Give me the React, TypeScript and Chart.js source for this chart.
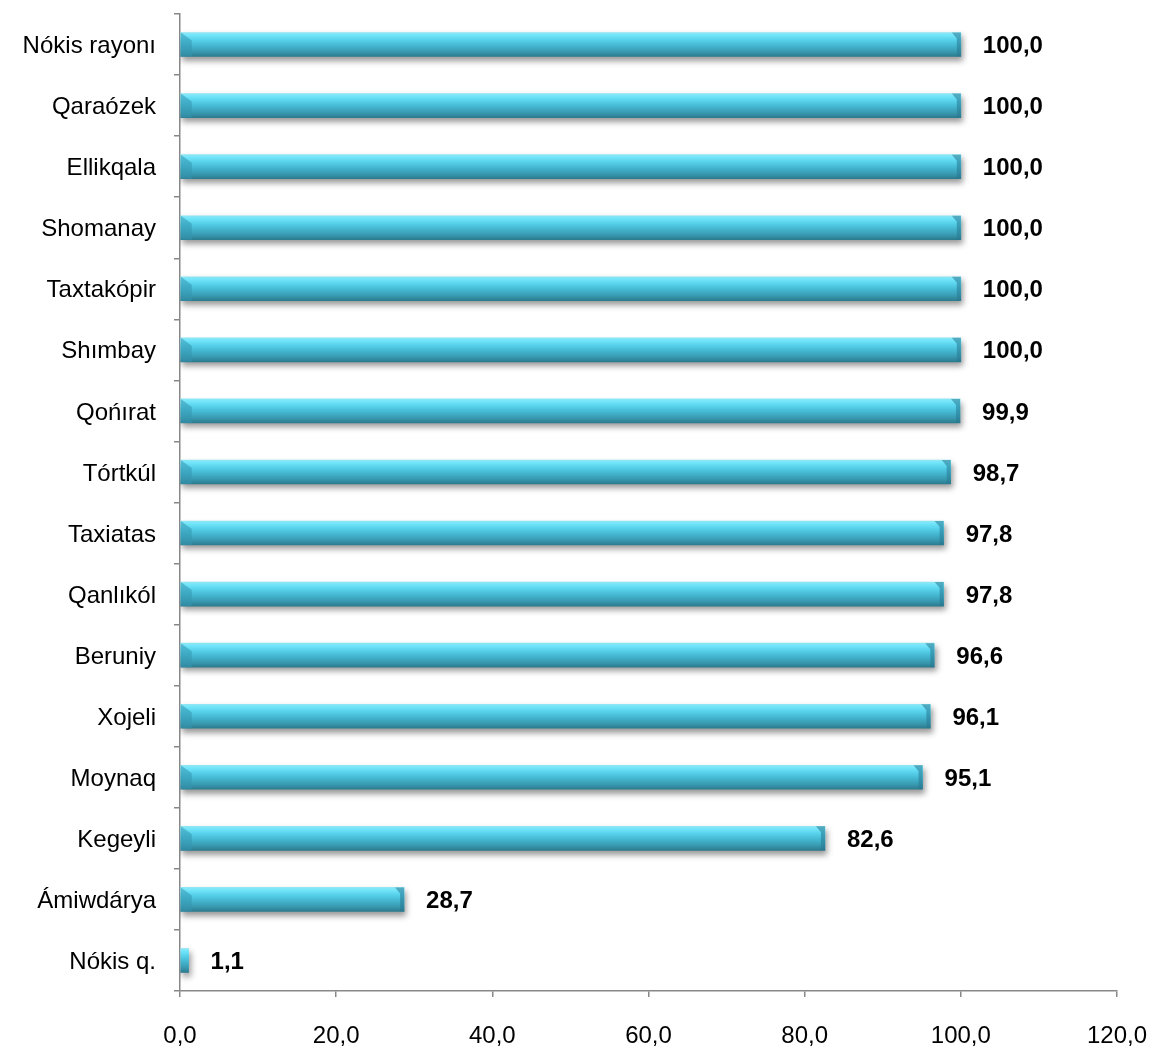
import React, { useEffect, useRef } from "react";
import { Chart, registerables } from "chart.js";

Chart.register(...registerables);

const categories = [
  "Nókis rayonı",
  "Qaraózek",
  "Ellikqala",
  "Shomanay",
  "Taxtakópir",
  "Shımbay",
  "Qońırat",
  "Tórtkúl",
  "Taxiatas",
  "Qanlıkól",
  "Beruniy",
  "Xojeli",
  "Moynaq",
  "Kegeyli",
  "Ámiwdárya",
  "Nókis q.",
];
const values = [100.0, 100.0, 100.0, 100.0, 100.0, 100.0, 99.9, 98.7, 97.8, 97.8, 96.6, 96.1, 95.1, 82.6, 28.7, 1.1];

const fmt = (v: number) => v.toFixed(1).replace(".", ",");
const FONT = "'Liberation Sans', Arial, sans-serif";

export default function App() {
  const ref = useRef<HTMLCanvasElement | null>(null);
  useEffect(() => {
    if (!ref.current) return;
    const BAR = 24;
    const shadowPlugin = {
      id: "shadow",
      beforeDatasetsDraw(chart: any) {
        const ctx = chart.ctx;
        ctx.save();
        ctx.shadowColor = "rgba(0,0,0,0.4)";
        ctx.shadowBlur = 6;
        ctx.shadowOffsetX = 2;
        ctx.shadowOffsetY = 4;
      },
      afterDatasetsDraw(chart: any) {
        const ctx = chart.ctx;
        ctx.restore();
        const meta = chart.getDatasetMeta(0);
        ctx.save();
        meta.data.forEach((el: any, i: number) => {
          const top = el.y - BAR / 2;
          const left = el.base;
          const w = el.x - left;
          if (w > 14) {
            ctx.fillStyle = "rgba(52,150,175,0.55)";
            ctx.beginPath();
            ctx.moveTo(left, top);
            ctx.lineTo(left + 11, top + 8);
            ctx.lineTo(left + 11, top + BAR);
            ctx.lineTo(left, top + BAR);
            ctx.closePath();
            ctx.fill();
            ctx.fillStyle = "rgba(40,120,145,0.55)";
            ctx.beginPath();
            ctx.moveTo(el.x - 9, top);
            ctx.lineTo(el.x, top);
            ctx.lineTo(el.x, top + BAR);
            ctx.lineTo(el.x - 4, top + BAR);
            ctx.lineTo(el.x - 4, top + 6);
            ctx.closePath();
            ctx.fill();
          }
          ctx.fillStyle = "#000";
          ctx.font = `bold 24px ${FONT}`;
          ctx.textBaseline = "middle";
          ctx.textAlign = "left";
          ctx.fillText(fmt(values[i]), el.x + 22, el.y + 2);
        });
        ctx.restore();
      },
    };
    const chart = new Chart(ref.current, {
      type: "bar",
      data: {
        labels: categories,
        datasets: [
          {
            data: values,
            barThickness: BAR,
            borderWidth: 0,
            backgroundColor: (c: any) => {
              const chart = c.chart;
              const ys = chart.scales?.y;
              if (!ys || c.dataIndex === undefined) return "#45bdd6";
              const cy = ys.getPixelForValue(c.dataIndex);
              if (!isFinite(cy)) return "#45bdd6";
              const t = cy - BAR / 2;
              const g = chart.ctx.createLinearGradient(0, t, 0, t + BAR);
              g.addColorStop(0, "#8fe6f3");
              g.addColorStop(0.1, "#74e6fa");
              g.addColorStop(0.3, "#58d2ec");
              g.addColorStop(0.55, "#44b6d0");
              g.addColorStop(0.8, "#3899b0");
              g.addColorStop(1, "#2c7b8e");
              return g;
            },
          },
        ],
      },
      options: {
        indexAxis: "y",
        animation: false,
        responsive: false,
        maintainAspectRatio: false,
        layout: { padding: { top: 14, right: 38, left: 0, bottom: 0 } },
        plugins: { legend: { display: false }, tooltip: { enabled: false } },
        scales: {
          x: {
            min: 0,
            max: 120,
            ticks: {
              stepSize: 20,
              callback: (v: any) => fmt(Number(v)),
              font: { family: FONT, size: 24 },
              color: "#000",
              padding: 25,
              maxRotation: 0,
            },
            grid: { drawOnChartArea: false, tickLength: 6, color: "#888", lineWidth: 1.5 },
            border: { color: "#888", width: 1.5 },
            afterFit: (s: any) => {
              s.height = 1048 - 991;
              s.paddingLeft = 0;
              s.paddingRight = 0;
            },
          },
          y: {
            ticks: {
              font: { family: FONT, size: 24 },
              color: "#000",
              padding: 18,
              labelOffset: 2,
              autoSkip: false,
            },
            grid: { drawOnChartArea: false, tickLength: 6, color: "#888", lineWidth: 1.5, offset: true },
            border: { color: "#888", width: 1.5 },
            afterFit: (s: any) => {
              s.width = 180;
              s.paddingTop = 0;
              s.paddingBottom = 0;
            },
          },
        },
      },
      plugins: [shadowPlugin],
    } as any);
    return () => chart.destroy();
  }, []);
  return (
    <div style={{ position: "fixed", left: 0, top: 0, width: 1155, height: 1048, background: "#fff" }}>
      <canvas ref={ref} width={1155} height={1048} style={{ width: 1155, height: 1048 }} />
    </div>
  );
}
